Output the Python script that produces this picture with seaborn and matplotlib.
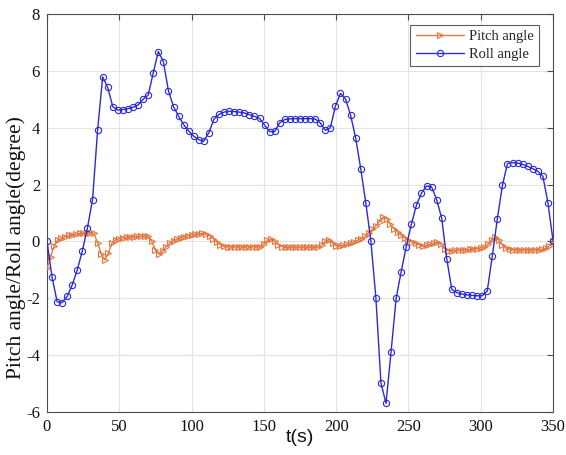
import numpy as np
import pandas as pd
import matplotlib
matplotlib.use("Agg")
import matplotlib.pyplot as plt
import seaborn as sns

# ---- data ----
roll = [0, -1.26, -2.12, -2.15, -1.93, -1.52, -0.99, -0.32, 0.48, 1.47,
        3.91, 5.79, 5.42, 4.74, 4.62, 4.64, 4.67, 4.72, 4.80, 5.0,
        5.15, 5.93, 6.68, 6.32, 5.3, 4.74, 4.41, 4.11, 3.88, 3.70,
        3.58, 3.53, 3.83, 4.30, 4.47, 4.55, 4.58, 4.57, 4.55, 4.52,
        4.46, 4.40, 4.33, 4.09, 3.86, 3.87, 4.17, 4.29, 4.31, 4.32,
        4.32, 4.32, 4.32, 4.31, 4.17, 3.91, 4.0, 4.76, 5.21, 5.01,
        4.44, 3.64, 2.56, 1.36, 0.03, -1.99, -4.98, -5.7, -3.88, -2.0,
        -1.06, -0.18, 0.6, 1.27, 1.7, 1.95, 1.92, 1.47, 0.82, -0.61,
        -1.69, -1.8, -1.85, -1.88, -1.9, -1.91, -1.91, -1.75, -0.52, 0.8,
        1.97, 2.74, 2.77, 2.76, 2.71, 2.64, 2.56, 2.47, 2.29, 1.36, 0.03]

pitch = [-0.95, -0.55, -0.15, 0.05, 0.12, 0.17, 0.21, 0.24, 0.26, 0.28,
         0.29, 0.30, 0.31, 0.28, -0.05, -0.45, -0.65, -0.40, -0.05, 0.06,
         0.10, 0.13, 0.15, 0.16, 0.17, 0.18, 0.18, 0.19, 0.18, 0.0,
         -0.30, -0.45, -0.35, -0.18, -0.06, 0.02, 0.08, 0.13, 0.17, 0.20,
         0.23, 0.25, 0.27, 0.28, 0.26, 0.20, 0.10, -0.02, -0.12, -0.17,
         -0.18, -0.18, -0.18, -0.18, -0.18, -0.18, -0.18, -0.18, -0.18, -0.18,
         -0.10, 0.04, 0.08, 0.0, -0.12, -0.18, -0.20, -0.20, -0.20, -0.20,
         -0.20, -0.20, -0.20, -0.20, -0.20, -0.20, -0.14, 0.02, 0.06, -0.06,
         -0.15, -0.17, -0.14, -0.10, -0.06, -0.02, 0.04, 0.10, 0.18, 0.30,
         0.42, 0.55, 0.70, 0.86, 0.80, 0.60, 0.45, 0.33, 0.22, 0.12,
         0.04, -0.02, -0.07, -0.12, -0.17, -0.14, -0.10, -0.06, -0.02, -0.10,
         -0.25, -0.32, -0.32, -0.31, -0.30, -0.30, -0.29, -0.28, -0.27, -0.25,
         -0.23, -0.20, -0.10, 0.05, 0.14, 0.05, -0.12, -0.24, -0.28, -0.29,
         -0.30, -0.30, -0.30, -0.30, -0.30, -0.30, -0.29, -0.28, -0.24, -0.15,
         0.0]

t_roll = np.linspace(0, 350, len(roll))
t_pitch = np.linspace(0, 350, len(pitch))

xticks = [0, 50, 100, 150, 200, 250, 300, 350]
yticks = [-6, -4, -2, 0, 2, 4, 6, 8]
series_names = ["Pitch angle", "Roll angle"]
xlabel = "t(s)"
ylabel = "Pitch angle/Roll angle(degree)"

df_pitch = pd.DataFrame({"t": t_pitch, "v": pitch})
df_roll = pd.DataFrame({"t": t_roll, "v": roll})

# ---- style ----
sns.set_style("white")
plt.rcParams["font.family"] = ["Liberation Serif", "DejaVu Serif"]

W, H = 566, 455
fig = plt.figure(figsize=(W / 100, H / 100), dpi=100)
L, R, T, B = 47, 553, 14, 412
ax = fig.add_axes([L / W, (H - B) / H, (R - L) / W, (B - T) / H])

c_orange = "#E2783F"
c_blue = "#2a2ad6"

sns.lineplot(data=df_pitch, x="t", y="v", ax=ax, color=c_orange, lw=1.0,
             marker=">", markersize=4.5, markerfacecolor="none",
             markeredgecolor=c_orange, markeredgewidth=0.8,
             label=series_names[0], zorder=3)
sns.lineplot(data=df_roll, x="t", y="v", ax=ax, color=c_blue, lw=1.0,
             marker="o", markersize=4.5, markerfacecolor="none",
             markeredgecolor=c_blue, markeredgewidth=0.8,
             label=series_names[1], zorder=4)

ax.set_xlim(0, 350)
ax.set_ylim(-6, 8)
ax.set_xticks(xticks)
ax.set_yticks(yticks)
ax.set_xticklabels([str(v) for v in xticks])
ax.set_yticklabels([str(v) for v in yticks])
ax.grid(True, color="#E3E3E3", lw=0.8)
ax.set_axisbelow(True)
for s in ax.spines.values():
    s.set_color("#4D4D4D")
    s.set_linewidth(0.8)
    s.set_visible(True)
ax.tick_params(axis="both", which="both", direction="in", length=4,
               width=0.8, color="#4D4D4D", labelsize=12, top=True, right=True,
               labelcolor="#111111", pad=5)

ax.set_xlabel(xlabel, fontsize=14, family=["Liberation Sans", "DejaVu Sans"],
              color="#111111", va="top")
ax.xaxis.set_label_coords(0.5, -(429 - B) / (B - T))
ax.set_ylabel(ylabel, fontsize=15.5, color="#111111", va="bottom")
ax.yaxis.set_label_coords(-(L - 26) / (R - L), (B - 248) / (B - T))

leg = ax.legend(loc="upper right", bbox_to_anchor=(0.973, 0.972), fontsize=10.5,
                frameon=True, fancybox=False, edgecolor="#333333",
                handlelength=3.3, borderpad=0.35, labelspacing=0.3,
                handletextpad=0.4, borderaxespad=0.0)
leg.get_frame().set_linewidth(0.8)

fig.savefig("out.png", dpi=100)
